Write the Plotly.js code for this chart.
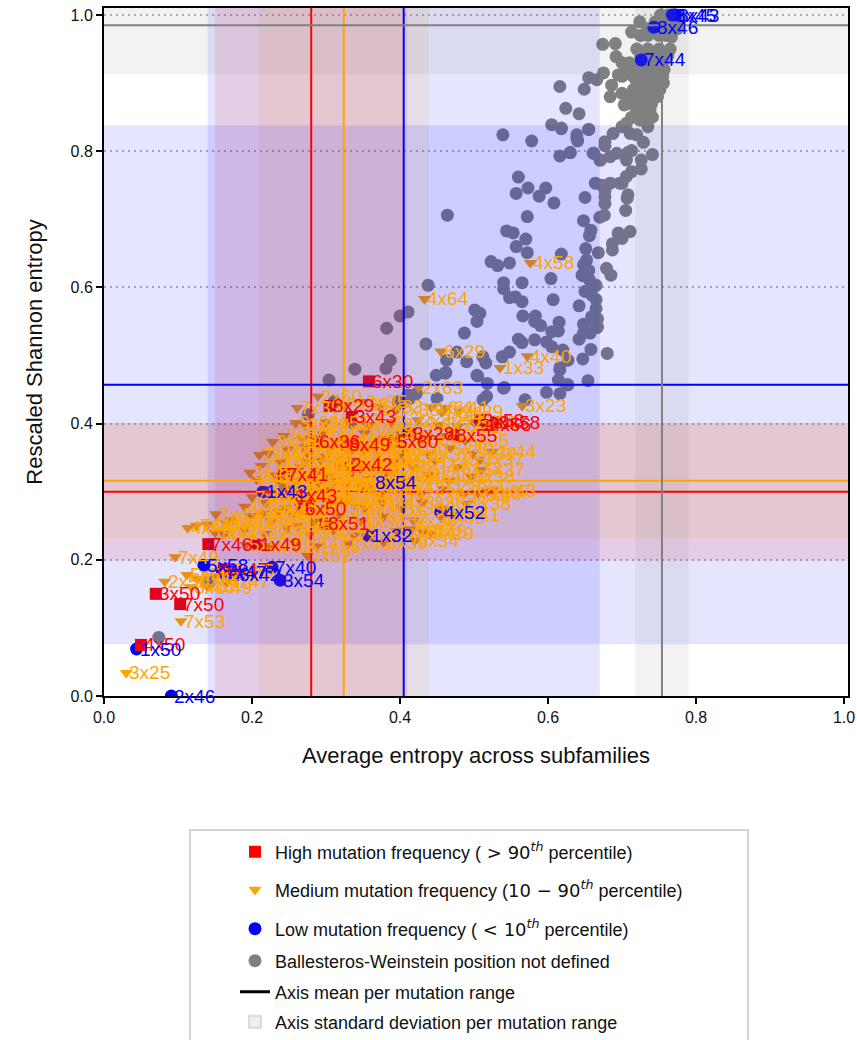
<!DOCTYPE html>
<html>
<head>
<meta charset="utf-8">
<script src="https://cdn.plot.ly/plotly-3.0.1.min.js"></script>
<style>html,body{margin:0;padding:0;background:#fff;overflow:hidden}#plot{width:857px;height:1040px}</style>
</head>
<body>
<div id="plot"></div>
<script>
// Positions without a Ballesteros-Weinstein number: [average entropy, rescaled Shannon entropy]
const undefinedPositions = [
[.539,.824],[.578,.815],[.605,.839],[.618,.833],[.639,.824],[.640,.815],[.655,.832],[.616,.793],[.630,.798],[.662,.797],[.671,.787],
[.560,.762],[.573,.746],[.597,.746],[.588,.734],[.557,.738],[.608,.724],[.650,.732],[.664,.753],[.464,.706],[.572,.704],[.670,.703],
[.648,.698],[.658,.684],[.656,.676],[.544,.683],[.553,.680],[.570,.671],[.557,.660],[.572,.651],[.651,.657],[.618,.649],[.668,.651],
[.523,.638],[.532,.632],[.548,.636],[.604,.613],[.646,.618],[.438,.603],[.540,.607],[.565,.607],[.540,.598],[.548,.585],[.556,.586],
[.565,.579],[.607,.582],[.642,.573],[.501,.567],[.508,.562],[.504,.550],[.411,.564],[.400,.558],[.382,.540],[.487,.533],[.566,.558],
[.583,.558],[.582,.550],[.590,.544],[.615,.549],[.614,.536],[.605,.535],[.648,.546],[.661,.552],[.666,.541],[.657,.533],[.642,.524],
[.560,.524],[.565,.519],[.582,.523],[.598,.520],[.605,.513],[.658,.509],[.680,.503],[.647,.495],[.435,.517],[.463,.493],[.477,.505],
[.490,.491],[.512,.498],[.516,.489],[.538,.498],[.548,.505],[.616,.482],[.627,.493],[.620,.508],[.505,.470],[.518,.459],[.541,.453],
[.654,.463],[.627,.457],[.614,.464],[.449,.471],[.462,.475],[.387,.493],[.381,.481],[.339,.480],[.304,.464],[.461,.474],[.504,.471],
[.540,.452],[.616,.479],[.598,.446],[.616,.444],[.517,.440],[.512,.435],[.569,.435],[.450,.437],[.422,.444],[.411,.442],[.276,.413],
[.311,.432],[.335,.402],[.398,.432],[.412,.436],[.625,.457],[.074,.086],[.141,.167],
[.695,.680],[.711,.682],[.700,.672],[.687,.664],[.687,.655],[.679,.628],[.685,.618],[.648,.633],[.648,.617],[.656,.611],[.665,.603],
[.650,.594],[.659,.589],[.665,.582],[.665,.569],[.659,.557],[.667,.554],[.667,.542],[.648,.533],[.652,.640],[.655,.625],[.660,.600],
[.674,.957],[.691,.958],[.655,.908],[.675,.915],[.666,.905],[.649,.891],[.616,.895],[.624,.863],[.642,.855],[.618,.834],[.639,.819],
[.655,.832],[.630,.798],[.661,.797],[.670,.787],[.684,.792],[.693,.797],[.706,.787],[.713,.801],[.708,.798],[.726,.787],[.726,.774],
[.741,.795],[.729,.813],[.677,.814],[.677,.808],[.688,.826],[.700,.836],[.711,.826],[.720,.824],[.735,.836],[.741,.850],[.724,.846],
[.713,.850],[.706,.841],[.703,.868],[.684,.880],[.686,.897],[.695,.912],[.700,.885],[.711,.880],[.684,.753],[.673,.750],[.713,.770],
[.706,.763],[.700,.753],[.677,.733],[.708,.736],[.705,.713],[.707,.731],[.677,.723],[.697,.753],[.695,.679],[.676,.706],[.677,.742],
[.752,1.0],[.762,1.0],[.772,1.0],[.778,.998],[.745,.99],[.755,.99],[.765,.99],[.775,.99],[.724,.99],[.735,.98],[.745,.98],[.755,.98],
[.765,.98],[.775,.98],[.713,.975],[.725,.97],[.735,.97],[.75,.97],[.76,.97],[.767,.968],[.72,.95],[.735,.95],[.75,.95],[.765,.95],
[.725,.94],[.74,.94],[.755,.94],[.762,.94],[.692,.939],[.70,.93],[.71,.93],[.725,.93],[.74,.93],[.755,.93],[.705,.92],[.72,.92],
[.735,.92],[.75,.92],[.757,.92],[.70,.91],[.715,.91],[.73,.91],[.745,.91],[.755,.91],[.72,.90],[.735,.90],[.75,.90],[.756,.90],
[.715,.89],[.73,.89],[.745,.89],[.751,.89],[.72,.88],[.735,.88],[.748,.88],[.71,.87],[.725,.87],[.74,.87],[.72,.86],[.73,.86],[.738,.861],
[.715,.85],[.73,.85]
];
// Mutation-frequency groups: [average entropy, rescaled Shannon entropy, BW position]
const mediumPositions = [
[.576,.636,"4x58"],[.433,.583,"4x64"],[.455,.506,"6x29"],[.572,.499,"4x40"],[.535,.482,"1x33"],[.425,.453,"2x63"],[.565,.426,"3x23"],
[.030,.034,"3x25"],[.104,.110,"7x53"],[.096,.204,"7x49"],[.113,.247,"4x46"],[.151,.267,"3x49"],[.197,.328,"3x42"],[.210,.354,"7x45"],
[.228,.373,"3x38"],[.259,.401,"3x34"],[.261,.423,"7x39"],[.289,.440,"2x60"],[.082,.168,"2x50"],[.112,.178,"5x50"],[.126,.172,"2x47"],
[.140,.160,"4x49"],[.150,.176,"1x46"],[.118,.160,"6x44"],[.165,.168,"4x47"],[.170,.185,"2x45"],[.125,.250,"7x43"],[.140,.252,"4x44"],
[.165,.255,"6x40"],[.150,.240,"1x47"],[.275,.206,"2x52"],[.524,.359,"4x44"],[.508,.347,"3x37"],[.524,.302,"4x43"],[.505,.298,"7x48"],
[.475,.266,"3x41"],[.431,.241,"8x45"],[.415,.245,"5x35"],[.461,.423,"6x41"],[.456,.417,"1x41"],[.424,.405,"2x39"],[.350,.432,"2x35"],
[.325,.428,"3x33"],[.372,.425,"6x33"],[.395,.420,"7x35"],[.442,.424,"4x61"],[.480,.418,"1x39"],[.272,.398,"3x30"],[.300,.402,"2x55"],
[.331,.405,"1x37"],[.358,.398,"4x53"],[.388,.402,"5x44"],[.452,.398,"6x37"],[.478,.396,"7x32"],[.500,.402,"5x38"],[.243,.382,"3x39"],
[.268,.378,"2x54"],[.296,.384,"5x47"],[.325,.376,"6x43"],[.352,.386,"1x45"],[.375,.378,"3x35"],[.402,.384,"4x41"],[.430,.376,"7x37"],
[.458,.382,"2x41"],[.488,.375,"6x35"],[.222,.356,"3x46"],[.248,.362,"1x53"],[.276,.355,"7x42"],[.304,.364,"6x45"],[.332,.356,"3x53"],
[.352,.362,"2x44"],[.372,.354,"5x52"],[.406,.362,"4x39"],[.438,.355,"1x35"],[.468,.364,"5x40"],[.498,.356,"3x32"],[.212,.338,"7x52"],
[.238,.344,"2x46"],[.266,.336,"1x49"],[.294,.346,"5x54"],[.318,.338,"3x44"],[.342,.346,"6x50"],[.364,.336,"2x57"],[.392,.344,"4x50"],
[.418,.336,"7x34"],[.448,.345,"1x44"],[.478,.336,"6x32"],[.510,.332,"5x37"],[.206,.318,"2x49"],[.232,.324,"3x47"],[.258,.316,"6x52"],
[.286,.326,"7x51"],[.312,.317,"4x55"],[.336,.326,"3x40"],[.356,.318,"1x51"],[.382,.326,"5x46"],[.410,.316,"2x40"],[.438,.325,"8x48"],
[.466,.316,"4x36"],[.496,.322,"6x38"],[.222,.298,"1x48"],[.248,.305,"7x50"],[.276,.296,"5x55"],[.304,.306,"3x48"],[.330,.297,"2x51"],
[.352,.305,"6x46"],[.374,.296,"4x54"],[.402,.305,"1x42"],[.428,.296,"7x38"],[.458,.304,"5x36"],[.486,.296,"3x31"],[.518,.300,"2x37"],
[.190,.278,"4x51"],[.218,.284,"6x51"],[.246,.276,"3x51"],[.274,.286,"2x48"],[.302,.277,"5x53"],[.328,.285,"7x47"],[.352,.276,"1x40"],
[.376,.285,"4x42"],[.402,.276,"6x39"],[.430,.284,"3x36"],[.458,.276,"8x52"],[.490,.282,"1x38"],[.172,.258,"3x52"],[.198,.264,"2x53"],
[.226,.256,"5x51"],[.256,.266,"4x48"],[.284,.257,"7x44"],[.316,.264,"6x49"],[.348,.256,"1x36"],[.378,.264,"5x42"],[.418,.258,"2x38"],
[.456,.262,"8x50"],[.162,.238,"4x45"],[.190,.244,"1x54"],[.218,.238,"2x56"],[.248,.246,"3x45"],[.278,.238,"6x42"],[.310,.244,"5x49"],
[.338,.236,"7x36"],[.396,.242,"5x41"],[.440,.238,"3x29"],[.192,.222,"5x57"],[.224,.220,"4x52"],[.258,.224,"6x54"],[.288,.220,"1x55"],
[.330,.224,"2x43"],[.378,.226,"5x39"],[.420,.228,"6x34"],[.270,.365,"5x48"],[.285,.372,"2x58"],[.300,.352,"6x48"],[.312,.375,"3x43"],
[.320,.348,"1x50"],[.336,.366,"7x33"],[.346,.334,"2x42"],[.362,.370,"4x57"],[.368,.346,"5x45"],[.385,.366,"6x47"],[.392,.330,"3x50"],
[.400,.352,"1x34"],[.272,.345,"5x56"],[.290,.332,"4x47"],[.305,.322,"1x52"],[.326,.312,"2x36"],[.345,.310,"7x40"],[.366,.312,"4x38"],
[.385,.310,"3x27"],[.255,.330,"6x53"],[.240,.310,"8x47"],[.265,.300,"5x59"],[.290,.312,"4x60"],[.318,.290,"3x26"],[.338,.282,"6x31"],
[.300,.290,"8x53"],[.262,.282,"4x37"],[.236,.270,"2x59"],[.262,.250,"1x56"],[.200,.292,"7x54"],[.215,.268,"3x24"],[.242,.294,"5x43"]
];
const highPositions = [
[.358,.462,"6x30"],[.305,.426,"8x29"],[.287,.374,"6x36"],[.327,.369,"8x49"],[.392,.374,"5x60"],[.414,.385,"3x28"],[.472,.383,"8x55"],
[.508,.405,"3x58"],[.518,.398,"4x56"],[.530,.402,"8x58"],[.243,.326,"7x41"],[.299,.253,"8x51"],[.207,.223,"1x49"],[.141,.223,"7x46"],
[.070,.150,"3x50"],[.103,.135,"7x50"],[.050,.075,"4x50"],[.255,.295,"1x43"],[.162,.186,"6x47"],[.330,.340,"2x42"],[.268,.275,"6x50"],
[.335,.410,"3x43"]
];
const lowPositions = [
[.091,0,"2x46"],[.044,.069,"1x50"],[.238,.170,"3x54"],[.227,.189,"7x40"],[.135,.192,"5x58"],[.160,.182,"7x47"],[.178,.178,"6x42"],
[.362,.314,"8x54"],[.357,.236,"1x32"],[.455,.270,"4x52"],[.215,.300,"1x43"],[.768,1.0,"8x45"],[.772,1.0,"8x43"],[.743,.982,"8x46"],[.726,.934,"7x44"]
];
// Axis means and standard deviations per mutation range
const rangeNames   = ["high","medium","low","undefined"];
const meanEntropyX = [.280,.324,.405,.754];
const sdEntropyX   = [.130,.115,.265,.036];
const meanEntropyY = [.300,.316,.457,.985];
const sdEntropyY   = [.101,.085,.381,.072];
const rangeColors  = ["red","orange","blue","gray"];
const rangeBands   = ["rgba(255,0,0,.1)","rgba(255,165,0,.1)","rgba(0,0,255,.1)","rgba(128,128,128,.1)"];

const col = (rows,i)=>rows.map(r=>r[i]);
const FONT = '"Liberation Sans", Arial, sans-serif';
const pxX = p => (p-104)/744, pxY = p => (696-p)/688;

function pointTrace(rows,name,symbol,color,size,legend){
  return {x:col(rows,0),y:col(rows,1),type:'scatter',mode:'markers',name,legend,cliponaxis:true,
    marker:{symbol,color,size,line:{width:0}},hoverinfo:'skip'};
}
const math = s => '<span style="font-family:\'DejaVu Sans\'">'+s+'</span>';
const data = [
  pointTrace(undefinedPositions,'Ballesteros-Weinstein position not defined','circle','gray',13,'legend4'),
  pointTrace(lowPositions,'Low mutation frequency ('+math(' &lt; 10<sup><i>th</i></sup>')+' percentile)','circle','blue',13,'legend3'),
  pointTrace(mediumPositions,'Medium mutation frequency ('+math('10 − 90<sup><i>th</i></sup>')+' percentile)','triangle-down','orange',11.5,'legend2'),
  pointTrace(highPositions,'High mutation frequency ('+math(' &gt; 90<sup><i>th</i></sup>')+' percentile)','square','red',12,'legend'),
  {x:[null],y:[null],type:'scatter',mode:'lines',name:'Axis mean per mutation range',legend:'legend5',line:{color:'black',width:3}},
  {x:[null],y:[null],type:'scatter',mode:'markers',name:'Axis standard deviation per mutation range',legend:'legend6',
   marker:{symbol:'square',size:12,color:'rgba(128,128,128,.12)',line:{color:'rgba(128,128,128,.25)',width:2}}}
];

const shapes = [{type:'rect',xref:'paper',yref:'paper',layer:'below',x0:pxX(190),x1:pxX(748),y0:pxY(1070),y1:pxY(830),
  fillcolor:'white',line:{color:'#d4d4d4',width:2}}];
rangeNames.forEach((n,i)=>{
  shapes.push({type:'rect',layer:'above',xref:'x',yref:'paper',x0:meanEntropyX[i]-sdEntropyX[i],x1:meanEntropyX[i]+sdEntropyX[i],y0:0,y1:1,fillcolor:rangeBands[i],line:{width:0}});
  shapes.push({type:'rect',layer:'above',xref:'paper',yref:'y',x0:0,x1:1,y0:meanEntropyY[i]-sdEntropyY[i],y1:Math.min(meanEntropyY[i]+sdEntropyY[i],1.0103),fillcolor:rangeBands[i],line:{width:0}});
});
rangeNames.forEach((n,i)=>{
  shapes.push({type:'line',layer:'above',xref:'x',yref:'paper',x0:meanEntropyX[i],x1:meanEntropyX[i],y0:0,y1:1,line:{color:rangeColors[i],width:2}});
  shapes.push({type:'line',layer:'above',xref:'paper',yref:'y',x0:0,x1:1,y0:meanEntropyY[i],y1:meanEntropyY[i],line:{color:rangeColors[i],width:2}});
});

const labelled = (rows,color)=>rows.map(r=>({x:r[0],y:r[1],text:r[2],xref:'x',yref:'y',showarrow:false,xanchor:'left',yanchor:'middle',
  xshift:2,yshift:0,borderpad:0,font:{family:FONT,size:19,color}}));
const annotations = [...labelled(mediumPositions,'orange'),...labelled(highPositions,'red'),...labelled(lowPositions,'blue')];

const legendAt = py => ({x:pxX(235),y:pxY(py),xanchor:'left',yanchor:'middle',bgcolor:'rgba(0,0,0,0)',borderwidth:0,itemwidth:30,
  font:{family:FONT,size:18,color:'#111'},itemclick:false,itemdoubleclick:false});

const layout = {
  width:857,height:1040,autosize:false,paper_bgcolor:'white',plot_bgcolor:'white',
  margin:{l:104,r:9,t:8,b:344,pad:0,autoexpand:false},
  font:{family:FONT,color:'black'},hovermode:false,
  showlegend:true,
  legend:legendAt(852),legend2:legendAt(890),legend3:legendAt(929),legend4:legendAt(961),legend5:legendAt(992),legend6:legendAt(1022),
  xaxis:{range:[0,1.0054],tickvals:[0,.2,.4,.6,.8,1],ticktext:['0.0','0.2','0.4','0.6','0.8','1.0'],ticks:'outside',ticklen:6,tickwidth:2,tickcolor:'black',
    showline:true,linecolor:'black',linewidth:2,mirror:true,showgrid:false,zeroline:false,tickfont:{size:16,color:'#111'},
    title:{text:'Average entropy across subfamilies',font:{size:22,color:'#111'},standoff:22}},
  yaxis:{range:[0,1.0103],tickvals:[0,.2,.4,.6,.8,1],ticktext:['0.0','0.2','0.4','0.6','0.8','1.0'],ticks:'outside',ticklen:6,tickwidth:2,tickcolor:'black',
    showline:true,linecolor:'black',linewidth:2,mirror:true,showgrid:true,gridcolor:'rgba(128,128,128,.6)',griddash:'2px,4px',gridwidth:2,zeroline:false,tickfont:{size:16,color:'#111'},
    title:{text:'Rescaled Shannon entropy',font:{size:22,color:'#111'},standoff:22}},
  shapes,annotations
};
Plotly.newPlot('plot',data,layout,{displayModeBar:false,staticPlot:true});
</script>
</body>
</html>
